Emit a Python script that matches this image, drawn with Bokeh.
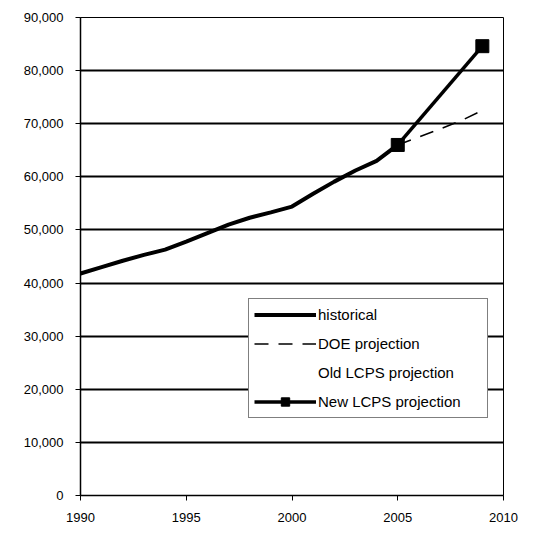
from bokeh.plotting import figure
from bokeh.models import FixedTicker, NumeralTickFormatter, Legend, LegendItem, Range1d
from bokeh.embed import file_html
from bokeh.resources import INLINE

hist_years = [1990, 1991, 1992, 1993, 1994, 1995, 1996, 1997, 1998, 1999,
              2000, 2001, 2002, 2003, 2004, 2005]
hist_values = [41800, 43000, 44200, 45300, 46300, 47800, 49400, 51000, 52300, 53300,
               54400, 56800, 59100, 61200, 63000, 66000]
doe_years = [2005, 2006, 2007, 2008, 2009]
doe_values = [66000, 67500, 69000, 70600, 72500]
new_years = [2005, 2009]
new_values = [66000, 84600]
y_ticks = [0, 10000, 20000, 30000, 40000, 50000, 60000, 70000, 80000, 90000]
x_ticks = [1990, 1995, 2000, 2005, 2010]

FONT = "Liberation Sans"

p = figure(width=526, height=525, output_backend="svg", toolbar_location=None,
           x_range=Range1d(1990, 2010), y_range=Range1d(0, 90000),
           min_border_left=80, min_border_right=23, min_border_top=17, min_border_bottom=30)

p.outline_line_color = "black"
p.outline_line_width = 1
p.xgrid.grid_line_color = None
p.ygrid.grid_line_color = "black"
p.ygrid.grid_line_width = 2
p.ygrid.ticker = FixedTicker(ticks=y_ticks)

p.yaxis.ticker = FixedTicker(ticks=y_ticks)
p.yaxis.formatter = NumeralTickFormatter(format="0,0")
p.xaxis.ticker = FixedTicker(ticks=x_ticks)
for ax in (p.xaxis, p.yaxis):
    ax.major_label_text_font = FONT
    ax.major_label_text_font_size = "13px"
    ax.major_label_text_color = "black"
    ax.axis_line_color = "black"
    ax.axis_line_width = 1.5
    ax.major_tick_line_color = "black"
    ax.major_tick_out = 5
    ax.major_tick_in = 0
    ax.minor_tick_line_color = None
p.xaxis.major_label_standoff = 12
p.yaxis.major_label_standoff = 12

r_hist = p.line(hist_years, hist_values, line_color="black", line_width=4)
r_doe = p.line(doe_years, doe_values, line_color="black", line_width=1.5, line_dash="14 10")
r_old = p.line([], [], line_color="white", line_alpha=0)
r_new_l = p.line(new_years, new_values, line_color="black", line_width=3.5)
r_new_s = p.scatter(new_years, new_values, marker="square", size=13,
                    fill_color="black", line_color="black")

legend = Legend(items=[
    LegendItem(label="historical", renderers=[r_hist]),
    LegendItem(label="DOE projection", renderers=[r_doe]),
    LegendItem(label="Old LCPS projection", renderers=[r_old]),
    LegendItem(label="New LCPS projection", renderers=[r_new_l, r_new_s]),
], location=(168, 77))
legend.border_line_color = "black"
legend.border_line_width = 1
legend.background_fill_color = "white"
legend.background_fill_alpha = 1
legend.padding = 5
legend.spacing = 8
legend.margin = 0
legend.glyph_width = 62
legend.glyph_height = 21
legend.label_height = 21
legend.label_width = 164
legend.label_standoff = 2
legend.label_text_font = FONT
legend.label_text_font_size = "15px"
legend.label_text_color = "black"
p.add_layout(legend, "center")

open("out.html", "w").write(file_html(p, INLINE))
